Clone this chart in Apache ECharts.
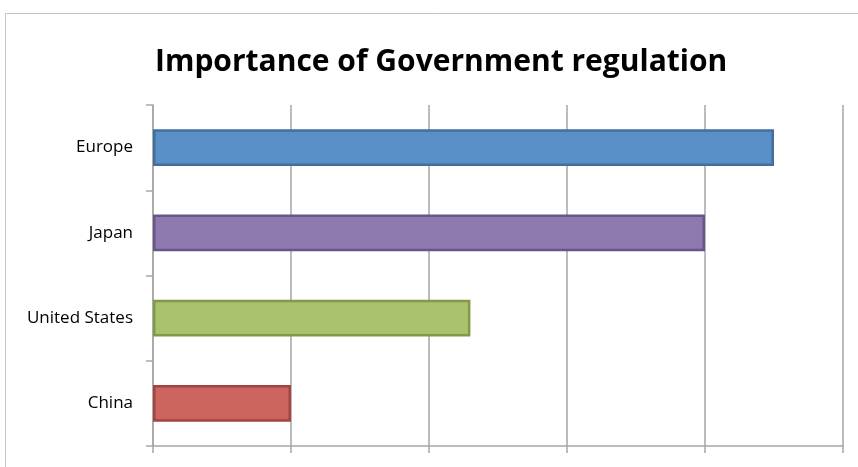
<!DOCTYPE html>
<html>
<head>
<meta charset="utf-8">
<script src="https://cdn.jsdelivr.net/npm/echarts@6/dist/echarts.min.js"></script>
<style>html,body{margin:0;padding:0;background:#fff}#c{width:858px;height:467px}</style>
</head>
<body>
<div id="c"></div>
<script>
const categories = ['Europe', 'Japan', 'United States', 'China'];
const values = [4.5, 4.0, 2.3, 1.0];
const fills = ['#5B8FC7', '#8E7AB0', '#AAC26C', '#CC6560'];
const borders = ['#41709F', '#695689', '#82994A', '#A2443F'];

const chart = echarts.init(document.getElementById('c'));
chart.setOption({
  animation: false,
  graphic: [{
    type: 'rect', shape: {x: 5.5, y: 13.5, width: 900, height: 500},
    style: {fill: 'none', stroke: '#C4C4C4', lineWidth: 1}, silent: true, z: -1
  }],
  title: {
    text: 'Importance of Government regulation',
    left: 150, top: 42,
    textStyle: {fontFamily: 'Open Sans', fontWeight: 'bold', fontSize: 30, color: '#000'}
  },
  grid: {left: 153, right: 15, top: 105, bottom: 21},
  xAxis: {
    type: 'value', min: 0, max: 5, interval: 1,
    axisLabel: {show: false},
    axisLine: {show: true, lineStyle: {color: '#A6A6A6', width: 1.5}},
    axisTick: {show: true, length: 7, lineStyle: {color: '#A6A6A6', width: 1.5}},
    splitLine: {show: true, lineStyle: {color: '#A6A6A6', width: 1.5}}
  },
  yAxis: {
    type: 'category', data: categories, inverse: true,
    axisLine: {show: true, lineStyle: {color: '#A6A6A6', width: 1.5}},
    axisTick: {show: true, length: 7, lineStyle: {color: '#A6A6A6', width: 1.5}},
    axisLabel: {fontFamily: 'Open Sans', fontSize: 17, color: '#000', margin: 20}
  },
  series: [{
    type: 'bar',
    barWidth: '43%',
    data: values.map((v, i) => ({
      value: v,
      itemStyle: {color: fills[i], borderColor: borders[i], borderWidth: 2.5}
    }))
  }]
});
</script>
</body>
</html>
